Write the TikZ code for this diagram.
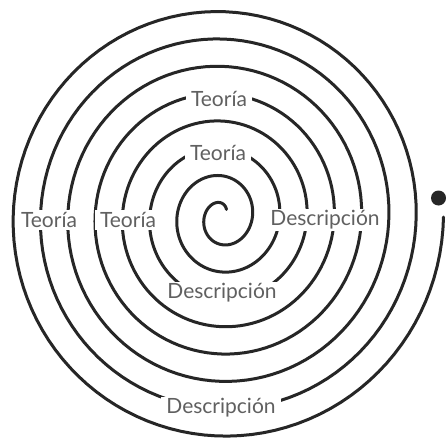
\documentclass[tikz,border=0pt]{standalone}
\usepackage{fontspec}
\setmainfont{Lato}
\definecolor{linec}{HTML}{262626}
\definecolor{textc}{HTML}{606060}
\begin{document}
\begin{tikzpicture}[x=1pt,y=-1pt,
  spiral/.style={draw=linec, line width=3pt, line cap=round},
  lbl/.style={fill=white, text=textc, inner xsep=5pt, inner ysep=2pt,
    font=\fontsize{21}{24}\selectfont},
  dotmark/.style={circle, fill=linec, inner sep=0pt, minimum size=15pt}]
\useasboundingbox (0,0) rectangle (446,441);
\fill[white] (0,0) rectangle (446,441);
% spiral
\draw[spiral] plot[domain=0:7.88, samples=900, variable=\t]
  ({221.5 + (222 - 27.3*\t)*cos(360*\t)}, {217 + (225.9 - 27.35*\t)*sin(360*\t)});
% start dot
\node[dotmark] (dot) at (438.5,198) {};
% labels
\node[lbl] (t1) at (219,99) {Teoría};
\node[lbl] (t2) at (218,153) {Teoría};
\node[lbl] (t3) at (49,220) {Teoría};
\node[lbl] (t4) at (128,220) {Teoría};
\node[lbl] (d1) at (325,220) {Descripción};
\node[lbl, inner xsep=2pt] (d2) at (222,293) {Descripción};
\node[lbl] (d3) at (221,408) {Descripción};
\end{tikzpicture}
\end{document}
